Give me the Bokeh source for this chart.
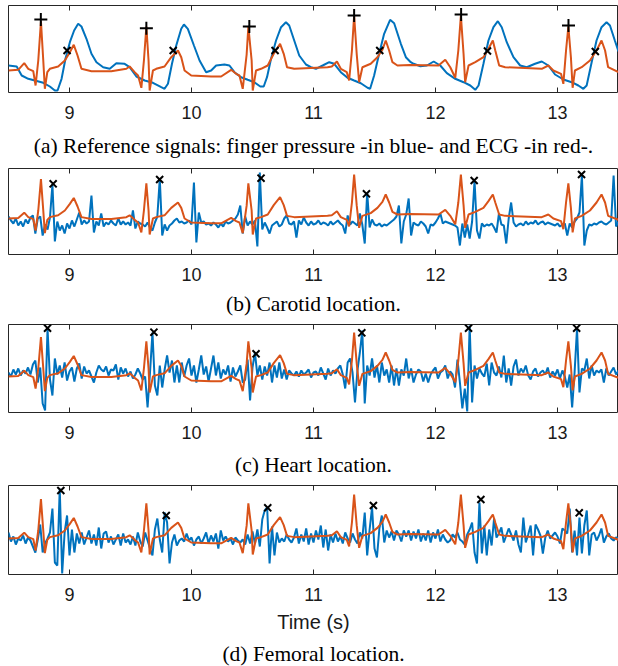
from bokeh.plotting import figure
from bokeh.models import Range1d, LinearAxis, FixedTicker, Title
from bokeh.layouts import column
from bokeh.embed import file_html
from bokeh.resources import INLINE

# ---------------- data ----------------
# (a) reference signals (arbitrary units)
ecg_t = [8.500, 8.580, 8.629, 8.662, 8.703, 8.722, 8.744, 8.766, 8.785, 8.798, 8.818, 8.839, 8.907, 8.962,
         9.003, 9.035, 9.066, 9.098, 9.180, 9.343, 9.466, 9.493, 9.534, 9.562, 9.589, 9.610, 9.630, 9.648,
         9.657, 9.684, 9.711, 9.779, 9.834, 9.889, 9.916, 9.943, 9.998, 10.161, 10.243, 10.325, 10.366,
         10.393, 10.420, 10.452, 10.466, 10.493, 10.502, 10.529, 10.570, 10.625, 10.674, 10.726, 10.756,
         10.783, 10.842, 11.115, 11.150, 11.192, 11.224, 11.273, 11.292, 11.315, 11.333, 11.354, 11.374,
         11.401, 11.469, 11.524, 11.565, 11.592, 11.620, 11.647, 11.688, 11.790, 12.025, 12.080, 12.121,
         12.162, 12.187, 12.208, 12.230, 12.243, 12.271, 12.326, 12.393, 12.434, 12.470, 12.490, 12.522,
         12.571, 12.871, 12.925, 12.966, 13.029, 13.048, 13.070, 13.089, 13.110, 13.124, 13.143, 13.198,
         13.266, 13.320, 13.361, 13.390, 13.415, 13.500]
ecg_v = [22, 22.7, 29.3, 23.7, 21.3, 7, 32, 71.3, 32, 3.7, 20.3, 23.7, 26, 32,
         40.3, 47.7, 37, 23.7, 21.3, 21.3, 23.7, 26, 20.3, 17, 4.7, 32, 66, 32,
         2, 22, 23.7, 26, 35.3, 42, 35.3, 22, 17, 16, 16, 22.7, 18.7,
         17, 3.7, 38, 66, 32, 2, 22, 23.7, 27, 38.7, 48.7, 38.7,
         25.3, 23.7, 25.3, 26, 31, 23.7, 20.3, 12, 42, 77, 38.7, 10.3,
         25.3, 28.7, 35.3, 42.7, 52, 42, 30.3, 27, 27.5, 27, 32.7, 25.3,
         14.7, 42, 77, 38.7, 10.3, 27, 30.3, 35.3, 43.7, 52, 42, 27,
         25.3, 23.7, 27, 22, 18.7, 8.7, 42, 66, 35, 4.7, 22, 25.3,
         32, 42, 52, 42, 25.3, 20.3]

press_t = [8.500, 8.567, 8.608, 8.662, 8.716, 8.785, 8.839, 8.880, 8.902, 8.935, 8.967, 9.003, 9.038, 9.071,
           9.098, 9.139, 9.180, 9.221, 9.276, 9.330, 9.384, 9.452, 9.493, 9.548, 9.616, 9.684, 9.752, 9.779,
           9.807, 9.840, 9.875, 9.916, 9.938, 9.970, 10.020, 10.066, 10.120, 10.161, 10.202, 10.270, 10.311,
           10.352, 10.406, 10.461, 10.515, 10.564, 10.592, 10.619, 10.652, 10.693, 10.734, 10.774, 10.801,
           10.842, 10.883, 10.938, 10.979, 11.020, 11.075, 11.129, 11.170, 11.224, 11.279, 11.333, 11.388,
           11.443, 11.464, 11.497, 11.538, 11.579, 11.628, 11.661, 11.716, 11.757, 11.797, 11.821, 11.876,
           11.930, 11.985, 12.039, 12.093, 12.162, 12.230, 12.285, 12.326, 12.353, 12.393, 12.434, 12.475,
           12.511, 12.543, 12.584, 12.639, 12.694, 12.748, 12.816, 12.871, 12.925, 12.980, 13.048, 13.116,
           13.171, 13.212, 13.239, 13.280, 13.320, 13.361, 13.402, 13.430, 13.470, 13.500]
press_v = [27, 26, 17, 13.7, 12, 9.7, 6, 2, 2, 13.7, 33.7, 50.3, 62, 68.7,
           66, 53.7, 38.7, 30.3, 25.3, 23.7, 29.3, 28.7, 25.3, 16, 12, 9.7, 5.3, 3.7,
           8.7, 28.7, 47, 63.7, 68, 63.7, 47, 32, 20.3, 22, 27, 28, 27,
           20.3, 15.3, 12.7, 10.3, 6, 6, 15.3, 33.7, 52, 65.3, 70.3, 67,
           52, 37, 28, 25.3, 23.7, 27, 30.3, 28.7, 20.3, 14.7, 12, 9.3,
           4.7, 3.7, 17, 38.7, 58.7, 72.7, 69.3, 48.7, 35.3, 30.3, 28.7, 26.3,
           27, 31, 27, 19.3, 13.7, 10.3, 7, 2.7, 7, 28.7, 52, 65.3,
           71.3, 65.3, 50.3, 35.3, 27, 25.3, 28.7, 31, 27, 18, 13, 10.3,
           7, 3.7, 7, 30.3, 52, 65.3, 70.3, 67, 52, 41]

rpeak_t = [8.765, 9.630, 10.474, 11.333, 12.210, 13.090]
rpeak_v = [73, 64.3, 66, 77, 78, 67]
foot_t = [8.980, 9.850, 10.685, 11.543, 12.426, 13.310]
foot_v = [42, 42, 42, 42, 41.5, 41]

# (b)-(d) sensor signals, sampled every 0.02 s from 8.5 s to 13.5 s
t_start, t_step = 8.5, 0.02
carotid = [38, 34, 31, 36, 29, 33, 28, 35, 31, 37,
           39, 21, 36, 38, 19, 30, 25, 37, 70, 13,
           33, 24, 29, 21, 31, 26, 34, 28, 35, 42,
           30, 34, 31, 33, 59, 22, 33, 29, 41, 28,
           32, 30, 34, 31, 29, 36, 30, 33, 30, 32,
           29, 44, 26, 33, 31, 30, 28, 32, 27, 24,
           32, 38, 76, 19, 30, 24, 29, 31, 34, 36,
           32, 33, 31, 32, 34, 30, 72, 12, 42, 32,
           33, 30, 31, 29, 32, 30, 27, 31, 28, 33,
           31, 32, 34, 36, 40, 49, 21, 38, 29, 33,
           30, 34, 8, 82, 25, 32, 27, 21, 29, 31,
           33, 28, 30, 36, 39, 31, 30, 33, 17, 34,
           30, 37, 32, 29, 33, 30, 31, 34, 30, 32,
           31, 29, 33, 30, 32, 34, 31, 29, 21, 39,
           30, 33, 31, 29, 41, 30, 11, 62, 27, 35,
           30, 29, 31, 28, 30, 29, 31, 33, 35, 38,
           49, 11, 33, 40, 56, 19, 32, 30, 29, 33,
           31, 28, 21, 30, 29, 32, 36, 41, 31, 33,
           32, 31, 30, 29, 27, 9, 31, 17, 30, 16,
           33, 74, 24, 16, 31, 28, 30, 29, 31, 27,
           22, 41, 30, 29, 11, 36, 52, 32, 28, 30,
           31, 29, 33, 30, 32, 31, 34, 30, 32, 33,
           30, 32, 31, 30, 29, 31, 28, 30, 31, 19,
           31, 27, 33, 36, 42, 79, 9, 24, 30, 29,
           31, 30, 32, 33, 31, 30, 32, 34, 79, 28,
           33]
heart = [40, 36, 43, 38, 44, 37, 42, 39, 45, 38,
         48, 52, 30, 45, 9, 2, 84, 33, 17, 54,
         38, 47, 35, 50, 32, 41, 45, 31, 44, 49,
         34, 46, 39, 42, 36, 30, 40, 47, 43, 41,
         46, 37, 43, 42, 48, 33, 45, 39, 44, 36,
         41, 34, 38, 44, 39, 33, 36, 5, 40, 80,
         27, 17, 47, 25, 43, 57, 40, 52, 30, 47,
         30, 50, 36, 47, 54, 37, 47, 30, 43, 57,
         38, 46, 31, 44, 57, 37, 50, 34, 43, 38,
         47, 31, 45, 36, 41, 47, 30, 33, 53, 12,
         45, 60, 37, 47, 33, 46, 37, 50, 30, 47,
         35, 50, 34, 43, 33, 42, 39, 37, 41, 36,
         42, 38, 40, 43, 35, 40, 41, 37, 45, 39,
         33, 44, 37, 42, 39, 44, 47, 38, 24, 50,
         54, 40, 10, 42, 60, 82, 9, 47, 37, 54,
         35, 47, 30, 50, 37, 43, 30, 47, 27, 44,
         27, 43, 37, 54, 34, 44, 30, 38, 43, 41,
         31, 39, 30, 38, 42, 45, 34, 40, 42, 47,
         34, 41, 38, 25, 53, 30, 4, 24, 1, 87,
         10, 47, 34, 44, 39, 36, 49, 27, 50, 40,
         37, 46, 35, 57, 30, 44, 27, 46, 53, 37,
         44, 40, 47, 37, 33, 41, 44, 36, 40, 42,
         38, 45, 35, 41, 37, 43, 34, 42, 36, 25,
         38, 5, 40, 84, 20, 44, 42, 54, 34, 47,
         37, 42, 40, 43, 30, 44, 37, 41, 45, 38,
         42]
femoral = [42, 33, 38, 30, 36, 34, 39, 31, 37, 34,
           28, 22, 35, 50, 22, 31, 36, 42, 66, 12,
           9, 86, 1, 42, 59, 19, 45, 22, 41, 31,
           42, 30, 37, 44, 31, 40, 29, 47, 26, 41,
           43, 32, 38, 30, 35, 40, 29, 41, 32, 35,
           30, 38, 29, 42, 33, 28, 42, 34, 26, 19,
           45, 56, 35, 22, 62, 52, 11, 32, 40, 29,
           34, 36, 33, 41, 34, 37, 29, 35, 38, 31,
           36, 42, 31, 39, 33, 41, 26, 44, 34, 38,
           33, 36, 30, 37, 34, 32, 35, 30, 40, 31,
           43, 31, 45, 28, 55, 64, 67, 11, 48, 19,
           42, 32, 36, 33, 40, 35, 32, 37, 46, 31,
           40, 33, 46, 30, 41, 32, 44, 35, 49, 27,
           45, 24, 40, 32, 41, 33, 38, 31, 42, 36,
           32, 41, 35, 31, 42, 36, 62, 19, 45, 67,
           26, 17, 46, 59, 32, 44, 37, 43, 34, 44,
           40, 33, 44, 38, 44, 34, 43, 36, 45, 33,
           41, 34, 44, 32, 42, 36, 45, 33, 40, 35,
           32, 34, 40, 37, 42, 35, 33, 30, 40, 45,
           52, 22, 11, 72, 21, 49, 19, 45, 29, 56,
           37, 41, 47, 32, 39, 46, 40, 34, 44, 30,
           22, 57, 32, 40, 49, 19, 50, 45, 39, 21,
           37, 44, 36, 39, 42, 38, 31, 46, 44, 41,
           66, 22, 44, 19, 57, 21, 49, 64, 19, 40,
           42, 34, 39, 46, 32, 38, 41, 36, 34, 37,
           36]

carotid_mk_t = [8.866, 9.739, 10.570, 11.434, 12.317, 13.197]
carotid_mk_v = [70.7, 75, 76.3, 60.7, 74, 80]
heart_mk_t = [8.820, 9.692, 10.529, 11.396, 12.271, 13.157]
heart_mk_v = [84.3, 80.3, 58.7, 79.7, 84.3, 84.3]
femoral_mk_t = [8.929, 9.793, 10.625, 11.491, 12.372, 13.178]
femoral_mk_v = [84, 59, 66.7, 69, 75, 61.7]

# ECG overlay in panels (b)-(d): ECG rescaled to the panel (offset, gain)
ecg_offset, ecg_base, ecg_gain = 36.0, 22.0, 0.8

ticks = [9, 10, 11, 12, 13]
captions = ["(a) Reference signals: finger pressure -in blue- and ECG -in red-.",
            "(b) Carotid location.",
            "(c) Heart location.",
            "(d) Femoral location."]
xlabel_last = "Time (s)"

BLUE = "#0072BD"
RED = "#D95319"
AX = "#262626"
X0, X1 = 8.5, 13.5
CAP_SIZE = "21.5px"


def base_fig(frame_h, ymax, top_b, bottom_b):
    p = figure(frame_width=610, frame_height=frame_h, x_range=Range1d(X0, X1),
               y_range=Range1d(0, ymax), y_axis_type=None,
               min_border_left=8, min_border_right=0, min_border_top=top_b,
               min_border_bottom=bottom_b, toolbar_location=None, output_backend="svg")
    p.outline_line_color = AX
    p.outline_line_width = 1
    p.xgrid.visible = False
    p.ygrid.visible = False
    p.background_fill_color = "white"
    p.border_fill_color = "white"
    ax = p.below[0]
    ax.ticker = FixedTicker(ticks=ticks)
    ax.major_tick_in = 5
    ax.major_tick_out = 0
    ax.minor_tick_line_color = None
    ax.axis_line_color = None
    ax.major_tick_line_color = AX
    ax.major_label_text_font = "Liberation Sans"
    ax.major_label_text_font_size = "18px"
    ax.major_label_text_color = "#1a1a1a"
    ax.major_label_standoff = 13
    top = LinearAxis(ticker=FixedTicker(ticks=ticks), major_tick_in=5, major_tick_out=0,
                     minor_tick_line_color=None, axis_line_color=None,
                     major_tick_line_color=AX, major_label_text_font_size="0px",
                     major_label_standoff=0, major_label_text_color=None)
    p.add_layout(top, "above")
    return p, ax


def style_caption_axis(ax, text, standoff):
    ax.axis_label = text
    ax.axis_label_text_font = "Liberation Serif"
    ax.axis_label_text_font_size = CAP_SIZE
    ax.axis_label_text_font_style = "normal"
    ax.axis_label_text_color = "black"
    ax.axis_label_standoff = standoff


# ---- panel (a)
pa, axa = base_fig(87, 87, 5, 73)
pa.line(press_t, press_v, line_color=BLUE, line_width=2)
pa.line(ecg_t, ecg_v, line_color=RED, line_width=2)
pa.scatter(rpeak_t, rpeak_v, marker="cross", size=13, line_width=2, line_color="black")
pa.scatter(foot_t, foot_v, marker="x", size=10, line_width=2, line_color="black")
style_caption_axis(axa, captions[0], 12)

ecg_scaled = [ecg_offset + ecg_gain * (v - ecg_base) for v in ecg_v]
sample_t = [t_start + t_step * i for i in range(len(carotid))]


def sensor_fig(frame_h, ymax, top_b, bottom_b, sig, mk_t, mk_v):
    p, ax = base_fig(frame_h, ymax, top_b, bottom_b)
    p.line(sample_t, sig, line_color=BLUE, line_width=2)
    p.line(ecg_t, ecg_scaled, line_color=RED, line_width=2)
    p.scatter(mk_t, mk_v, marker="x", size=10, line_width=2, line_color="black")
    return p, ax


pb, axb = sensor_fig(86, 86, 3, 67, carotid, carotid_mk_t, carotid_mk_v)
style_caption_axis(axb, captions[1], 8)
pc, axc = sensor_fig(88, 88, 3, 70, heart, heart_mk_t, heart_mk_v)
style_caption_axis(axc, captions[2], 11)
pd, axd = sensor_fig(89, 89, 3, 90, femoral, femoral_mk_t, femoral_mk_v)
axd.axis_label = xlabel_last
axd.axis_label_text_font = "Liberation Sans"
axd.axis_label_text_font_size = "20px"
axd.axis_label_text_font_style = "normal"
axd.axis_label_text_color = "#1a1a1a"
axd.axis_label_standoff = 7
cap = Title(text=captions[3], align="center", text_font="Liberation Serif",
            text_font_size=CAP_SIZE, text_font_style="normal", text_color="black",
            standoff=9, offset=0)
pd.add_layout(cap, "below")

layout = column(pa, pb, pc, pd, spacing=0)
open("out.html", "w").write(file_html(layout, INLINE))
